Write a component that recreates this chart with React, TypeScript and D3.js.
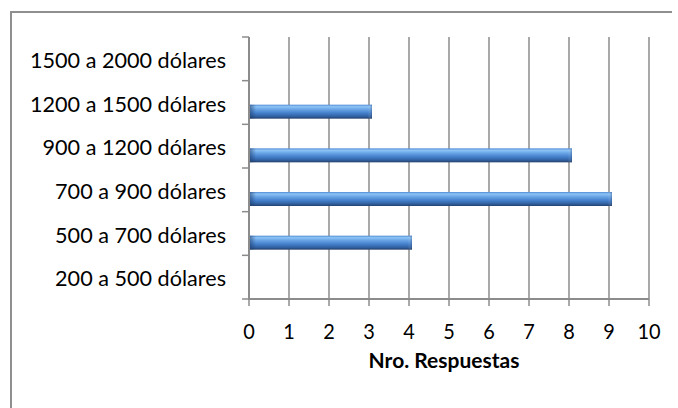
import React from "react";
import * as d3 from "d3";

// Salary ranges (bottom to top) and number of answers in each
const categories = [
  "200 a 500 dólares",
  "500 a 700 dólares",
  "700 a 900 dólares",
  "900 a 1200 dólares",
  "1200 a 1500 dólares",
  "1500 a 2000 dólares",
];
const respuestas = [0, 4, 9, 8, 3, 0];
const xTickValues = [0, 1, 2, 3, 4, 5, 6, 7, 8, 9, 10];
const axisTitle = "Nro. Respuestas";

const W = 678;
const H = 408;
const FONT = "Lato, 'Open Sans', 'Liberation Sans', sans-serif";

export default function App() {
  const x = d3.scaleLinear().domain([0, 10]).range([249, 649]);
  const y = d3.scaleBand<string>().domain(categories).range([299, 37]);
  const bw = y.bandwidth();
  const grid = "#8c8c8c";

  const label = (
    key: string,
    tx: number,
    ty: number,
    text: string,
    anchor: "start" | "middle" | "end",
    sx: number,
    bold = false,
    size = 21
  ) => (
    <text
      key={key}
      transform={`translate(${tx},${ty}) scale(${sx},1)`}
      textAnchor={anchor}
      fontFamily={FONT}
      fontSize={size}
      fontWeight={bold ? 700 : 400}
      fill="#000"
    >
      {text}
    </text>
  );

  return (
    <svg
      width={W}
      height={H}
      style={{ position: "absolute", left: 0, top: 0, background: "#fff" }}
    >
      <defs>
        <linearGradient id="barFill" x1="0" y1="0" x2="0" y2="1">
          <stop offset="0%" stopColor="#4f8bd6" />
          <stop offset="14%" stopColor="#8ec4f5" />
          <stop offset="30%" stopColor="#6ea9e8" />
          <stop offset="60%" stopColor="#4480cc" />
          <stop offset="85%" stopColor="#305f9f" />
          <stop offset="100%" stopColor="#233f69" />
        </linearGradient>
        <linearGradient id="capL" x1="0" y1="0" x2="1" y2="0">
          <stop offset="0%" stopColor="#1d3c6a" stopOpacity={0.55} />
          <stop offset="100%" stopColor="#1d3c6a" stopOpacity={0} />
        </linearGradient>
        <linearGradient id="capR" x1="0" y1="0" x2="1" y2="0">
          <stop offset="0%" stopColor="#ffffff" stopOpacity={0} />
          <stop offset="100%" stopColor="#1d3c6a" stopOpacity={0.35} />
        </linearGradient>
      </defs>

      {/* chart frame */}
      <path
        d={`M11,${H} L11,12 L672,12`}
        fill="none"
        stroke="#8f8f8f"
        strokeWidth={2}
      />

      {/* vertical gridlines */}
      {xTickValues.map((t) => (
        <line
          key={`g${t}`}
          x1={x(t)}
          x2={x(t)}
          y1={37}
          y2={299}
          stroke={grid}
          strokeWidth={1.5}
        />
      ))}

      {/* category axis */}
      <line x1={x(0)} x2={x(0)} y1={37} y2={300} stroke={grid} strokeWidth={2} />
      {categories.map((c) => (
        <line
          key={`ct${c}`}
          x1={242}
          x2={x(0)}
          y1={(y(c) as number) + bw}
          y2={(y(c) as number) + bw}
          stroke={grid}
          strokeWidth={1.5}
        />
      ))}
      <line x1={242} x2={x(0)} y1={37} y2={37} stroke={grid} strokeWidth={1.5} />

      {/* value axis */}
      <line x1={x(0) - 1} x2={x(10)} y1={299} y2={299} stroke={grid} strokeWidth={2} />
      {xTickValues.map((t) => (
        <line
          key={`xt${t}`}
          x1={x(t)}
          x2={x(t)}
          y1={299}
          y2={306}
          stroke={grid}
          strokeWidth={1.5}
        />
      ))}

      {/* bars */}
      {categories.map((c, i) => {
        const v = respuestas[i];
        if (v <= 0) return null;
        const top = (y(c) as number) + bw * 0.55;
        const h = bw * 0.32;
        const x0 = x(0) + 1;
        const x1 = x(v) + 3;
        return (
          <g key={`b${c}`}>
            <rect x={x0} y={top} width={x1 - x0} height={h} fill="url(#barFill)" />
            <rect x={x0} y={top} width={6} height={h} fill="url(#capL)" />
            <rect x={x1 - 4} y={top} width={4} height={h} fill="url(#capR)" />
          </g>
        );
      })}

      {/* category labels */}
      {categories.map((c) =>
        label(`l${c}`, 226, (y(c) as number) + bw / 2 + 9, c, "end", 1.03)
      )}

      {/* value tick labels */}
      {xTickValues.map((t) => label(`t${t}`, x(t), 339, String(t), "middle", 0.95))}

      {/* axis title */}
      {label("title", 444, 368, axisTitle, "middle", 1.05, true, 20)}
    </svg>
  );
}
